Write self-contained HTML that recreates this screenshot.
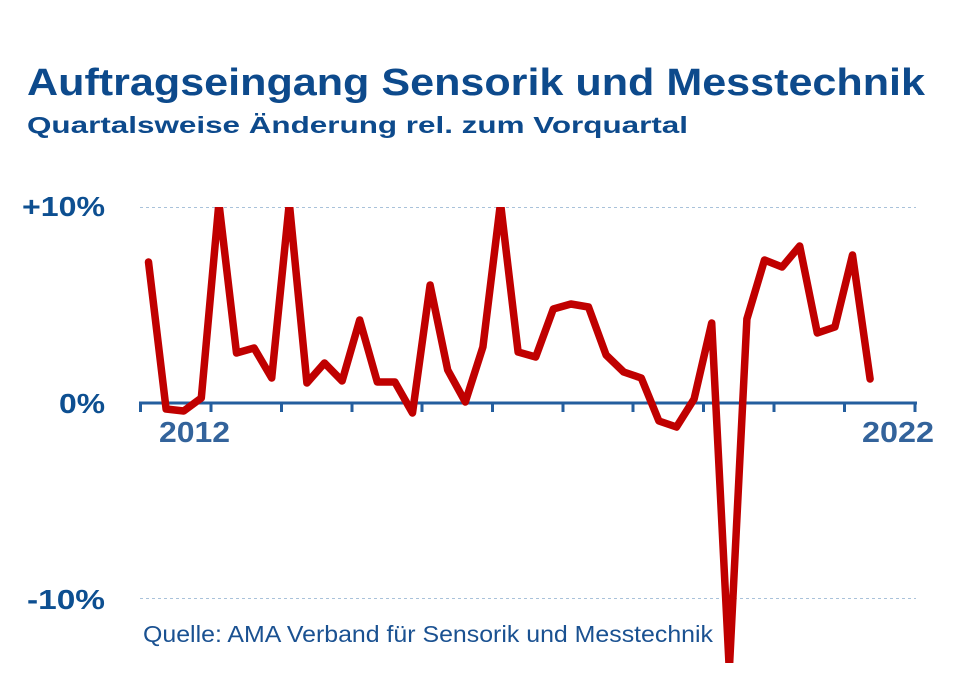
<!DOCTYPE html>
<html><head><meta charset="utf-8"><style>
html,body{margin:0;padding:0;background:#fff;}
svg{display:block;}
</style></head><body>
<svg width="980" height="685" viewBox="0 0 980 685" xmlns="http://www.w3.org/2000/svg">
<defs>
<clipPath id="plot"><rect x="0" y="207" width="980" height="456"/></clipPath>
</defs>
<rect width="980" height="685" fill="#fff"/>
<text x="27" y="95" font-family="Liberation Sans, sans-serif" font-weight="bold" font-size="38" fill="#0d4a8c" textLength="898" lengthAdjust="spacingAndGlyphs">Auftragseingang Sensorik und Messtechnik</text>
<text x="27" y="133" font-family="Liberation Sans, sans-serif" font-weight="bold" font-size="23" fill="#0d4a8c" textLength="661" lengthAdjust="spacingAndGlyphs">Quartalsweise Änderung rel. zum Vorquartal</text>

<g stroke="#a9c2da" stroke-width="1" stroke-dasharray="3,3">
<line x1="140" y1="207.5" x2="916" y2="207.5"/>
<line x1="140" y1="598.5" x2="916" y2="598.5"/>
</g>

<g font-family="Liberation Sans, sans-serif" font-weight="bold" font-size="28" fill="#0d4f91">
<text x="22" y="216" textLength="83" lengthAdjust="spacingAndGlyphs">+10%</text>
<text x="59" y="413" textLength="46" lengthAdjust="spacingAndGlyphs">0%</text>
<text x="27" y="609" textLength="78" lengthAdjust="spacingAndGlyphs">-10%</text>
</g>

<g stroke="#245e9e" stroke-width="3" fill="none">
<line x1="139" y1="403" x2="917" y2="403"/>
<path d="M140.5 403v9M211 403v9M281.5 403v9M352 403v9M422 403v9M492.5 403v9M563 403v9M633 403v9M703.5 403v9M774 403v9M844.5 403v9M915 403v9"/>
</g>

<g font-family="Liberation Sans, sans-serif" font-weight="bold" font-size="29" fill="#33639b">
<text x="159" y="442" textLength="71" lengthAdjust="spacingAndGlyphs">2012</text>
<text x="862" y="442" textLength="72" lengthAdjust="spacingAndGlyphs">2022</text>
</g>

<text x="143" y="642" font-family="Liberation Sans, sans-serif" font-size="23" fill="#1a5191" textLength="570" lengthAdjust="spacingAndGlyphs">Quelle: AMA Verband für Sensorik und Messtechnik</text>

<polyline clip-path="url(#plot)" fill="none" stroke="#c00000" stroke-width="7.5" stroke-linejoin="round" stroke-linecap="round" points="
148.5,262 166.1,409 183.7,411 201.3,398 218.9,203 236.5,353 254.1,348 271.7,378 289.3,203 306.9,383
324.5,363 342.1,381 359.7,320 377.3,382 394.9,382 412.5,413 430.1,285 447.7,370 465.3,402 482.9,347
500.5,203 518.1,352 535.7,357 553.3,309 570.9,304 588.5,307 606.1,355 623.7,372 641.3,378 658.9,421
676.5,427 694.1,399 711.7,323 729.3,670 746.9,319 764.5,260 782.1,267 799.7,246 817.3,333 834.9,327
852.5,255 870.1,379"/>
</svg>
</body></html>
